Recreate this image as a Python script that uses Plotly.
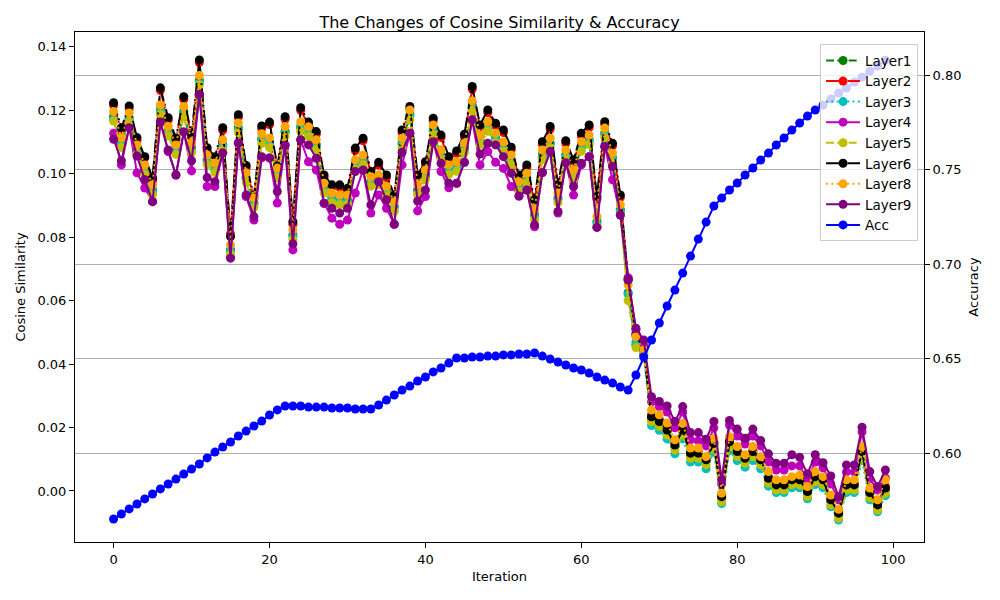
import plotly.graph_objects as go

iterations = list(range(100))

layer1 = [0.1181, 0.1098, 0.1177, 0.1076, 0.1013, 0.0950, 0.1202, 0.1134, 0.1076, 0.1197,
          0.1082, 0.1295, 0.1044, 0.1019, 0.1092, 0.0761, 0.1145, 0.0988, 0.0909, 0.1111,
          0.1098, 0.1003, 0.1134, 0.0808, 0.1149, 0.1133, 0.1092, 0.0955, 0.0924, 0.0918,
          0.0918, 0.1029, 0.1044, 0.0976, 0.0981, 0.0945, 0.0897, 0.1097, 0.1186, 0.0950,
          0.0997, 0.1139, 0.1060, 0.1013, 0.1023, 0.1081, 0.1215, 0.1107, 0.1149, 0.1113,
          0.1085, 0.1044, 0.0960, 0.0987, 0.0871, 0.1060, 0.1097, 0.0924, 0.1060, 0.0997,
          0.1086, 0.1107, 0.0850, 0.1129, 0.1050, 0.0887, 0.0625, 0.0462, 0.0430, 0.0229,
          0.0214, 0.0187, 0.0140, 0.0187, 0.0114, 0.0114, 0.0093, 0.0145, -0.0023, 0.0150,
          0.0119, 0.0098, 0.0119, 0.0093, 0.0035, 0.0014, 0.0014, 0.0030, 0.0030, -0.0007,
          0.0040, 0.0030, -0.0033, -0.0075, 0.0014, 0.0014, 0.0119, -0.0010, -0.0049, 0.0004]

layer2 = [0.1216, 0.1137, 0.1206, 0.1106, 0.1050, 0.0979, 0.1263, 0.1169, 0.1105, 0.1235,
          0.1114, 0.1351, 0.1074, 0.1046, 0.1137, 0.0810, 0.1178, 0.1018, 0.0922, 0.1143,
          0.1155, 0.1015, 0.1172, 0.0841, 0.1200, 0.1155, 0.1125, 0.0988, 0.0957, 0.0957,
          0.0946, 0.1073, 0.1104, 0.0999, 0.1028, 0.0988, 0.0925, 0.1130, 0.1204, 0.0988,
          0.1030, 0.1167, 0.1114, 0.1046, 0.1064, 0.1117, 0.1267, 0.1146, 0.1193, 0.1151,
          0.1130, 0.1076, 0.0988, 0.1020, 0.0910, 0.1093, 0.1141, 0.0957, 0.1096, 0.1036,
          0.1120, 0.1146, 0.0920, 0.1156, 0.1088, 0.0925, 0.0670, 0.0497, 0.0450, 0.0240,
          0.0225, 0.0198, 0.0150, 0.0198, 0.0124, 0.0124, 0.0103, 0.0155, -0.0012, 0.0160,
          0.0129, 0.0108, 0.0129, 0.0103, 0.0045, 0.0024, 0.0024, 0.0040, 0.0040, 0.0003,
          0.0050, 0.0040, -0.0023, -0.0065, 0.0024, 0.0024, 0.0129, 0.0000, -0.0039, 0.0014]

layer3 = [0.1172, 0.1093, 0.1172, 0.1071, 0.1008, 0.0945, 0.1197, 0.1129, 0.1071, 0.1192,
          0.1077, 0.1290, 0.1039, 0.1014, 0.1087, 0.0756, 0.1140, 0.0983, 0.0904, 0.1106,
          0.1093, 0.0998, 0.1129, 0.0803, 0.1144, 0.1128, 0.1087, 0.0950, 0.0919, 0.0913,
          0.0913, 0.1024, 0.1039, 0.0971, 0.0976, 0.0940, 0.0892, 0.1092, 0.1181, 0.0945,
          0.0992, 0.1134, 0.1055, 0.1008, 0.1018, 0.1076, 0.1210, 0.1102, 0.1144, 0.1108,
          0.1080, 0.1039, 0.0955, 0.0982, 0.0866, 0.1055, 0.1092, 0.0919, 0.1055, 0.0992,
          0.1081, 0.1102, 0.0845, 0.1124, 0.1045, 0.0882, 0.0620, 0.0470, 0.0435, 0.0206,
          0.0191, 0.0164, 0.0117, 0.0164, 0.0091, 0.0091, 0.0070, 0.0122, -0.0040, 0.0127,
          0.0096, 0.0075, 0.0096, 0.0070, 0.0015, -0.0005, -0.0005, 0.0010, 0.0010, -0.0025,
          0.0020, 0.0010, -0.0050, -0.0092, -0.0005, -0.0005, 0.0096, -0.0028, -0.0066, -0.0015]

layer4 = [0.1128, 0.1028, 0.1148, 0.1003, 0.0955, 0.0912, 0.1163, 0.1070, 0.0996, 0.1132,
          0.1009, 0.1251, 0.0960, 0.0960, 0.1066, 0.0738, 0.1097, 0.0928, 0.0854, 0.1050,
          0.1050, 0.0908, 0.1091, 0.0760, 0.1107, 0.1038, 0.1012, 0.0907, 0.0860, 0.0841,
          0.0854, 0.0939, 0.1012, 0.0876, 0.0933, 0.0891, 0.0841, 0.1028, 0.1128, 0.0883,
          0.0928, 0.1101, 0.1007, 0.0956, 0.0970, 0.1036, 0.1170, 0.1028, 0.1070, 0.1036,
          0.1017, 0.0960, 0.0930, 0.0949, 0.0833, 0.1004, 0.1070, 0.0876, 0.1035, 0.0933,
          0.1028, 0.1054, 0.0831, 0.1086, 0.0981, 0.0870, 0.0672, 0.0508, 0.0460, 0.0281,
          0.0265, 0.0249, 0.0199, 0.0249, 0.0161, 0.0158, 0.0142, 0.0199, 0.0022, 0.0208,
          0.0173, 0.0148, 0.0173, 0.0142, 0.0091, 0.0066, 0.0066, 0.0079, 0.0079, 0.0035,
          0.0091, 0.0073, 0.0022, -0.0028, 0.0060, 0.0060, 0.0186, 0.0038, 0.0003, 0.0041]

layer5 = [0.1166, 0.1083, 0.1162, 0.1061, 0.0998, 0.0935, 0.1187, 0.1119, 0.1061, 0.1182,
          0.1067, 0.1280, 0.1029, 0.1004, 0.1077, 0.0746, 0.1130, 0.0973, 0.0894, 0.1096,
          0.1083, 0.0988, 0.1119, 0.0793, 0.1134, 0.1118, 0.1077, 0.0940, 0.0909, 0.0903,
          0.0903, 0.1014, 0.1029, 0.0961, 0.0966, 0.0930, 0.0882, 0.1082, 0.1171, 0.0935,
          0.0982, 0.1124, 0.1045, 0.0998, 0.1008, 0.1066, 0.1200, 0.1092, 0.1134, 0.1098,
          0.1070, 0.1029, 0.0945, 0.0972, 0.0856, 0.1045, 0.1082, 0.0909, 0.1045, 0.0982,
          0.1071, 0.1092, 0.0835, 0.1114, 0.1035, 0.0872, 0.0600, 0.0452, 0.0440, 0.0218,
          0.0203, 0.0176, 0.0129, 0.0176, 0.0103, 0.0103, 0.0082, 0.0134, -0.0034, 0.0139,
          0.0108, 0.0087, 0.0108, 0.0082, 0.0024, 0.0003, 0.0003, 0.0019, 0.0019, -0.0018,
          0.0029, 0.0019, -0.0044, -0.0086, 0.0003, 0.0003, 0.0108, -0.0021, -0.0060, -0.0007]

layer6 = [0.1224, 0.1145, 0.1214, 0.1114, 0.1054, 0.0987, 0.1271, 0.1177, 0.1113, 0.1243,
          0.1122, 0.1359, 0.1082, 0.1054, 0.1145, 0.0802, 0.1186, 0.1026, 0.0930, 0.1151,
          0.1163, 0.1023, 0.1180, 0.0849, 0.1208, 0.1163, 0.1133, 0.0996, 0.0965, 0.0965,
          0.0954, 0.1081, 0.1112, 0.1007, 0.1036, 0.0996, 0.0933, 0.1138, 0.1212, 0.0996,
          0.1038, 0.1175, 0.1122, 0.1054, 0.1072, 0.1125, 0.1275, 0.1154, 0.1201, 0.1159,
          0.1138, 0.1084, 0.0996, 0.1028, 0.0918, 0.1101, 0.1149, 0.0965, 0.1104, 0.1044,
          0.1128, 0.1154, 0.0928, 0.1164, 0.1096, 0.0933, 0.0665, 0.0492, 0.0445, 0.0234,
          0.0219, 0.0192, 0.0145, 0.0192, 0.0119, 0.0119, 0.0098, 0.0150, -0.0018, 0.0155,
          0.0124, 0.0103, 0.0124, 0.0098, 0.0040, 0.0019, 0.0019, 0.0035, 0.0035, -0.0002,
          0.0045, 0.0035, -0.0028, -0.0070, 0.0019, 0.0019, 0.0124, -0.0005, -0.0044, 0.0009]

layer8 = [0.1196, 0.1113, 0.1192, 0.1091, 0.1028, 0.0965, 0.1217, 0.1149, 0.1091, 0.1212,
          0.1097, 0.1310, 0.1059, 0.1034, 0.1107, 0.0776, 0.1160, 0.1003, 0.0924, 0.1126,
          0.1113, 0.1018, 0.1149, 0.0823, 0.1164, 0.1148, 0.1107, 0.0970, 0.0939, 0.0933,
          0.0933, 0.1044, 0.1059, 0.0991, 0.0996, 0.0960, 0.0912, 0.1112, 0.1201, 0.0965,
          0.1012, 0.1154, 0.1075, 0.1028, 0.1038, 0.1096, 0.1230, 0.1122, 0.1164, 0.1128,
          0.1100, 0.1059, 0.0975, 0.1002, 0.0886, 0.1075, 0.1112, 0.0939, 0.1075, 0.1012,
          0.1101, 0.1122, 0.0865, 0.1144, 0.1065, 0.0902, 0.0650, 0.0487, 0.0445, 0.0255,
          0.0240, 0.0214, 0.0161, 0.0213, 0.0135, 0.0135, 0.0108, 0.0166, -0.0007, 0.0171,
          0.0140, 0.0114, 0.0140, 0.0108, 0.0061, 0.0035, 0.0035, 0.0045, 0.0050, 0.0014,
          0.0061, 0.0045, -0.0013, -0.0058, 0.0035, 0.0035, 0.0140, 0.0009, -0.0028, 0.0035]

layer9 = [0.1109, 0.1041, 0.1145, 0.1056, 0.0981, 0.0912, 0.1163, 0.1075, 0.0996, 0.1132,
          0.1041, 0.1251, 0.0988, 0.0975, 0.1066, 0.0734, 0.1097, 0.0933, 0.0865, 0.1054,
          0.1050, 0.0944, 0.1089, 0.0779, 0.1107, 0.1091, 0.1049, 0.0907, 0.0891, 0.0876,
          0.0891, 0.1007, 0.1012, 0.0902, 0.0975, 0.0918, 0.0841, 0.1068, 0.1128, 0.0914,
          0.0949, 0.1101, 0.1033, 0.0970, 0.0970, 0.1036, 0.1170, 0.1062, 0.1096, 0.1091,
          0.1054, 0.1002, 0.0930, 0.0949, 0.0839, 0.1004, 0.1070, 0.0881, 0.1035, 0.0960,
          0.1033, 0.1054, 0.0831, 0.1086, 0.1023, 0.0870, 0.0665, 0.0513, 0.0476, 0.0297,
          0.0282, 0.0268, 0.0219, 0.0266, 0.0184, 0.0184, 0.0163, 0.0219, 0.0035, 0.0222,
          0.0195, 0.0166, 0.0195, 0.0159, 0.0117, 0.0087, 0.0087, 0.0114, 0.0106, 0.0054,
          0.0114, 0.0089, 0.0047, -0.0018, 0.0082, 0.0082, 0.0201, 0.0061, 0.0014, 0.0066]

acc = [0.5651, 0.5677, 0.5704, 0.5730, 0.5757, 0.5783, 0.5810, 0.5836, 0.5862, 0.5889,
       0.5915, 0.5942, 0.5974, 0.6005, 0.6032, 0.6058, 0.6090, 0.6116, 0.6143, 0.6169,
       0.6201, 0.6228, 0.6249, 0.6249, 0.6249, 0.6243, 0.6243, 0.6243, 0.6238, 0.6238,
       0.6238, 0.6233, 0.6233, 0.6233, 0.6254, 0.6280, 0.6307, 0.6333, 0.6354, 0.6381,
       0.6402, 0.6429, 0.6450, 0.6476, 0.6503, 0.6503, 0.6508, 0.6508, 0.6513, 0.6513,
       0.6519, 0.6519, 0.6524, 0.6524, 0.6529, 0.6513, 0.6497, 0.6481, 0.6466, 0.6450,
       0.6439, 0.6423, 0.6402, 0.6386, 0.6370, 0.6349, 0.6333, 0.6413, 0.6508, 0.6598,
       0.6688, 0.6778, 0.6862, 0.6952, 0.7042, 0.7132, 0.7222, 0.7307, 0.7349, 0.7392,
       0.7429, 0.7471, 0.7508, 0.7550, 0.7587, 0.7630, 0.7667, 0.7709, 0.7746, 0.7783,
       0.7815, 0.7841, 0.7873, 0.7905, 0.7931, 0.7963, 0.7989, 0.8021, 0.8048, 0.8079]

cos_ticks = [0.00, 0.02, 0.04, 0.06, 0.08, 0.10, 0.12, 0.14]
acc_ticks = [0.60, 0.65, 0.70, 0.75, 0.80]
x_ticks = [0, 20, 40, 60, 80, 100]

DASH = "8px,3.3px"
DASHDOT = "13px,3.3px,2px,3.3px"
DOT = "2px,3.3px"

series = [
    ("Layer1", layer1, "#008000", DASH),
    ("Layer2", layer2, "#ff0000", DASHDOT),
    ("Layer3", layer3, "#00bfbf", DOT),
    ("Layer4", layer4, "#bf00bf", "solid"),
    ("Layer5", layer5, "#bfbf00", DASH),
    ("Layer6", layer6, "#000000", DASHDOT),
    ("Layer8", layer8, "#ffa500", DOT),
    ("Layer9", layer9, "#800080", "solid"),
]

fig = go.Figure()
for name, vals, color, dash in series:
    fig.add_trace(go.Scatter(
        x=iterations, y=vals, name=name, mode="lines+markers",
        line=dict(color=color, width=2, dash=dash),
        marker=dict(color=color, size=9, line=dict(width=0)),
        yaxis="y",
    ))

fig.add_trace(go.Scatter(
    x=iterations, y=acc, name="Acc", mode="lines+markers",
    line=dict(color="#0000ff", width=2),
    marker=dict(color="#0000ff", size=9, line=dict(width=0)),
    yaxis="y2",
))

font = "DejaVu Sans"
fig.update_layout(
    width=1000, height=600,
    paper_bgcolor="white", plot_bgcolor="white",
    margin=dict(l=75, r=76, t=32, b=58),
    font=dict(family=font, size=13, color="black"),
    title=dict(text="The Changes of Cosine Similarity & Accuracy",
               x=0.5, xref="paper", xanchor="center",
               y=1 - 22 / 600, yref="container", yanchor="middle",
               font=dict(family=font, size=16, color="black")),
    showlegend=True,
    legend=dict(x=0.993, xanchor="right", y=0.976, yanchor="top",
                bgcolor="rgba(255,255,255,0.8)", bordercolor="#cccccc",
                borderwidth=1, font=dict(family=font, size=13.5),
                tracegroupgap=0, itemwidth=34),
    xaxis=dict(range=[-4.95, 103.95], tickvals=x_ticks, ticktext=[str(t) for t in x_ticks],
               showgrid=False, zeroline=False, showline=True, mirror=True,
               linecolor="black", linewidth=1, ticks="outside", ticklen=5,
               tickcolor="black",
               title=dict(text="Iteration", font=dict(family=font, size=13), standoff=6)),
    yaxis=dict(range=[-0.0161, 0.1447], tickvals=cos_ticks, tickformat=".2f",
               showgrid=False, zeroline=False, showline=True, mirror=False,
               linecolor="black", linewidth=1, ticks="outside", ticklen=5,
               tickcolor="black",
               title=dict(text="Cosine Similarity", font=dict(family=font, size=13), standoff=8)),
    yaxis2=dict(range=[0.5529, 0.8228], tickvals=acc_ticks, tickformat=".2f",
                overlaying="y", side="right",
                showgrid=True, gridcolor="#b0b0b0", gridwidth=1,
                zeroline=False, showline=True, linecolor="black", linewidth=1,
                ticks="outside", ticklen=5, tickcolor="black",
                title=dict(text="Accuracy", font=dict(family=font, size=13), standoff=8)),
)

fig.write_html("out.html", config={"displayModeBar": False},
               post_script="document.body.style.margin='0';document.body.style.overflow='hidden';")
